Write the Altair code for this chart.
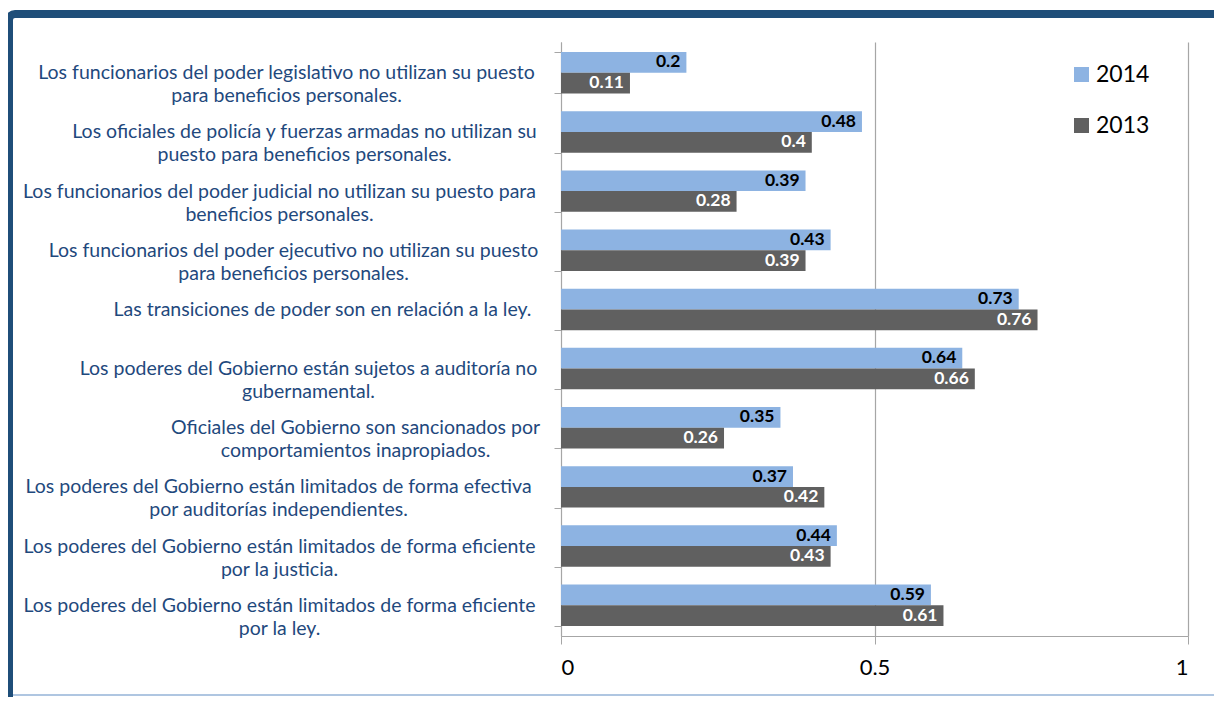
import altair as alt
import pandas as pd

categories = [
    "Los funcionarios del poder legislativo no utilizan su puesto|para beneficios personales.",
    "Los oficiales de policía y fuerzas armadas no utilizan su|puesto para beneficios personales.",
    "Los funcionarios del poder judicial no utilizan su puesto para|beneficios personales.",
    "Los funcionarios del poder ejecutivo no utilizan su puesto|para beneficios personales.",
    "Las transiciones de poder son en relación a la ley.",
    "Los poderes del Gobierno están sujetos a auditoría no|gubernamental.",
    "Oficiales del Gobierno son sancionados por|comportamientos inapropiados.",
    "Los poderes del Gobierno están limitados de forma efectiva|por auditorías independientes.",
    "Los poderes del Gobierno están limitados de forma eficiente|por la justicia.",
    "Los poderes del Gobierno están limitados de forma eficiente|por la ley.",
]
values_2014 = [0.2, 0.48, 0.39, 0.43, 0.73, 0.64, 0.35, 0.37, 0.44, 0.59]
values_2013 = [0.11, 0.4, 0.28, 0.39, 0.76, 0.66, 0.26, 0.42, 0.43, 0.61]
years = ["2014", "2013"]
colors = ["#8DB3E2", "#606060"]
x_ticks = [0, 0.5, 1]

# layout only: distance (px) from tick end to the centre of each wrapped label block
label_gaps = [268, 250, 275, 261, 232, 246, 199, 276, 275, 275]

rows = []
for c, a, b in zip(categories, values_2014, values_2013):
    rows.append({"cat": c, "year": "2014", "value": a})
    rows.append({"cat": c, "year": "2013", "value": b})
df = pd.DataFrame(rows)

FONT = "Lato"
LABEL_BLUE = "#1F497D"
GRID = "#A6A6A6"

pad_cond = {
    "condition": [
        {"test": "datum.value === '%s'" % c, "value": g}
        for c, g in zip(categories, label_gaps)
    ],
    "value": 269,
}

y_enc = alt.Y(
    "cat:N",
    sort=categories,
    scale=alt.Scale(paddingInner=0.3, paddingOuter=0.17),
    axis=alt.Axis(
        title=None,
        labelExpr="split(datum.label, '|')",
        labelAlign="center",
        labelPadding=pad_cond,
        labelLimit=1000,
        labelFont=FONT,
        labelFontSize=19.5,
        labelColor=LABEL_BLUE,
        labelLineHeight=23,
        tickBand="extent",
        tickSize=7,
        tickColor=GRID,
        domainColor=GRID,
        grid=False,
    ),
)
yoff = alt.YOffset("year:N", sort=years, scale=alt.Scale(paddingInner=0, paddingOuter=0))
x_enc = alt.X(
    "value:Q",
    scale=alt.Scale(domain=[0, 1], nice=False),
    axis=alt.Axis(
        title=None,
        values=x_ticks,
        labelExpr="datum.value == 0 ? '0' : datum.value == 1 ? '1' : '0.5'",
        labelFont=FONT,
        labelFontSize=22,
        labelColor="#000000",
        labelPadding=13,
        tickSize=8,
        tickColor=GRID,
        domainColor=GRID,
        grid=True,
        gridColor=GRID,
        gridWidth=1.2,
    ),
)

bars = alt.Chart(df).mark_bar().encode(
    y=y_enc,
    yOffset=yoff,
    x=x_enc,
    color=alt.Color(
        "year:N",
        sort=years,
        scale=alt.Scale(domain=years, range=colors),
        legend=alt.Legend(
            title=None,
            orient="none",
            legendX=509,
            legendY=21,
            symbolType="square",
            symbolSize=225,
            symbolStrokeWidth=0,
            labelFont=FONT,
            labelFontSize=23,
            labelColor="#000000",
            labelOffset=3,
            rowPadding=27,
        ),
    ),
)

texts = alt.Chart(df).mark_text(
    align="right", baseline="middle", dx=-6, font=FONT, fontSize=17.5, fontWeight="bold"
).encode(
    y=alt.Y("cat:N", sort=categories),
    yOffset=alt.YOffset("year:N", sort=years),
    x=alt.X("value:Q"),
    text=alt.Text("value:Q"),
    color=alt.condition("datum.year == '2014'", alt.value("#000000"), alt.value("#FFFFFF")),
)

frame = alt.Chart(alt.Data(values=[{}])).mark_rect(
    filled=False, stroke="#1F4E79", strokeWidth=8, cornerRadius=6
).encode(
    x=alt.value(-552), x2=alt.value(760), y=alt.value(-28), y2=alt.value(720)
)
bottom_line = alt.Chart(alt.Data(values=[{}])).mark_rule(
    color="#95B3D7", strokeWidth=1.5
).encode(x=alt.value(-548), x2=alt.value(700), y=alt.value(653))

chart = alt.layer(bars, texts, frame, bottom_line).properties(
    width=627,
    height=594,
    padding={"left": 553, "top": 34, "right": 26, "bottom": 61},
    autosize=alt.AutoSizeParams(type="none"),
).configure_view(stroke=None)

chart.save("out.html", embed_options={"renderer": "svg", "actions": False})
